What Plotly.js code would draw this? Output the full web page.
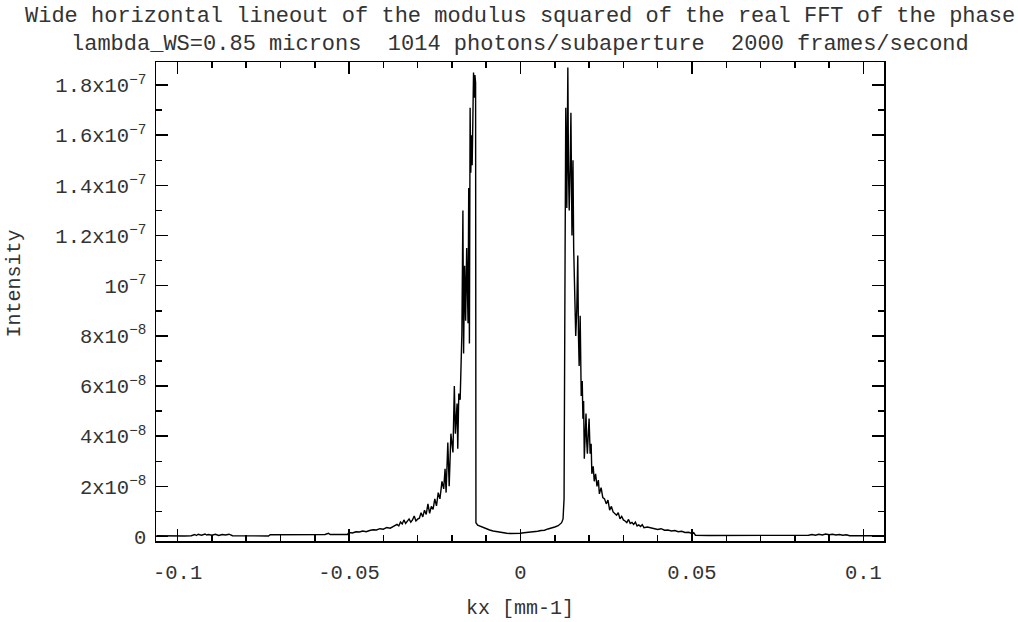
<!DOCTYPE html>
<html>
<head>
<meta charset="utf-8">
<script src="https://cdn.plot.ly/plotly-3.0.1.min.js"></script>
<style>html,body{margin:0;padding:0;background:#fff;}#chart{width:1018px;height:622px;}</style>
</head>
<body>
<div id="chart"></div>
<script>
// kx [mm-1]
const kx = [
-0.1062,-0.104,-0.100,-0.098,-0.096,-0.095,-0.0945,-0.094,-0.093,-0.092,-0.0915,-0.091,-0.090,-0.089,-0.088,-0.087,-0.086,-0.085,-0.084,
-0.080,-0.076,-0.0735,-0.073,-0.070,-0.068,-0.066,-0.064,-0.0635,-0.060,-0.057,-0.056,-0.0555,-0.053,-0.0505,
-0.050,-0.049,-0.048,-0.047,-0.046,-0.045,-0.044,-0.043,-0.042,-0.041,-0.040,-0.039,-0.038,-0.037,-0.036,-0.0355,
-0.035,-0.0345,-0.034,-0.0335,-0.033,-0.0325,-0.032,-0.0315,-0.031,-0.0305,-0.030,-0.0295,-0.029,-0.0285,-0.028,-0.0275,
-0.027,-0.0265,-0.026,-0.0255,-0.025,-0.0245,-0.024,-0.0235,-0.0229,-0.0224,-0.022,-0.0217,-0.0212,-0.0208,-0.0203,
-0.0197,-0.0193,-0.0190,-0.0185,-0.0183,-0.0180,-0.0176,-0.0171,-0.0168,-0.0166,-0.0163,-0.0160,-0.0157,-0.0155,
-0.0153,-0.0151,-0.0149,-0.0147,-0.0145,-0.0143,-0.0141,-0.0139,-0.0137,-0.0135,-0.0133,-0.0131,
-0.0130,-0.0125,-0.012,-0.0115,-0.011,-0.0105,-0.010,-0.009,-0.008,-0.007,-0.006,-0.005,-0.004,-0.003,-0.002,-0.001,
0,0.001,0.002,0.003,0.004,0.005,0.006,0.007,0.008,0.009,0.010,0.011,0.0115,0.012,0.0124,0.0127,
0.0130,0.0132,0.0135,0.0138,0.0140,0.0142,0.0145,0.0147,0.0150,0.0153,0.0155,0.0157,0.0161,0.0164,0.0167,0.0169,
0.0171,0.0174,0.0177,0.0180,0.0182,0.0184,0.0186,0.0189,0.0191,0.0193,0.0195,0.0198,0.0200,0.0203,0.0206,0.0208,
0.0212,0.0215,0.0219,0.0223,0.0227,0.023,0.0235,0.024,0.0245,0.025,0.0255,0.026,0.0265,0.027,0.0275,0.028,0.0285,
0.029,0.0295,0.030,0.0305,0.031,0.0315,0.032,0.0325,0.033,0.0335,0.034,0.0345,0.035,0.0355,0.036,0.037,0.038,0.039,
0.040,0.041,0.042,0.043,0.044,0.045,0.046,0.047,0.048,0.049,0.050,0.0505,0.051,0.055,0.060,0.065,0.070,0.071,0.073,
0.075,0.078,0.080,0.082,0.084,0.085,0.086,0.087,0.088,0.089,0.090,0.091,0.092,0.093,0.094,0.095,0.096,0.100,0.104,0.106
];
// Intensity
const intensity = [
0.03e-8,0.02e-8,0.03e-8,0.02e-8,0.03e-8,0.08e-8,0.04e-8,0.09e-8,0.05e-8,0.10e-8,0.06e-8,0.08e-8,0.05e-8,0.09e-8,0.04e-8,0.08e-8,0.06e-8,0.09e-8,0.03e-8,
0.02e-8,0.03e-8,0.02e-8,0.07e-8,0.07e-8,0.08e-8,0.07e-8,0.10e-8,0.07e-8,0.07e-8,0.08e-8,0.13e-8,0.08e-8,0.08e-8,0.08e-8,
0.16e-8,0.14e-8,0.19e-8,0.18e-8,0.22e-8,0.19e-8,0.24e-8,0.27e-8,0.26e-8,0.31e-8,0.29e-8,0.36e-8,0.33e-8,0.40e-8,0.48e-8,0.42e-8,
0.58e-8,0.50e-8,0.66e-8,0.52e-8,0.63e-8,0.70e-8,0.57e-8,0.66e-8,0.82e-8,0.62e-8,0.69e-8,0.73e-8,0.95e-8,0.78e-8,1.05e-8,0.88e-8,
1.30e-8,0.92e-8,1.20e-8,1.08e-8,1.50e-8,1.22e-8,1.75e-8,1.50e-8,2.20e-8,1.90e-8,2.70e-8,1.75e-8,3.75e-8,2.00e-8,4.10e-8,
3.35e-8,6.00e-8,4.10e-8,5.30e-8,3.50e-8,5.70e-8,5.45e-8,8.10e-8,13.0e-8,7.30e-8,10.8e-8,8.60e-8,11.5e-8,10.0e-8,
8.50e-8,13.9e-8,7.70e-8,17.1e-8,14.5e-8,16.0e-8,14.8e-8,16.6e-8,18.5e-8,17.5e-8,18.4e-8,18.1e-8,
0.55e-8,0.45e-8,0.42e-8,0.38e-8,0.35e-8,0.32e-8,0.30e-8,0.26e-8,0.22e-8,0.19e-8,0.16e-8,0.14e-8,0.13e-8,0.12e-8,0.12e-8,0.13e-8,
0.13e-8,0.15e-8,0.16e-8,0.18e-8,0.20e-8,0.21e-8,0.24e-8,0.25e-8,0.30e-8,0.33e-8,0.38e-8,0.43e-8,0.48e-8,0.55e-8,0.70e-8,1.50e-8,
11.3e-8,17.1e-8,13.1e-8,18.7e-8,14.5e-8,13.0e-8,14.9e-8,16.9e-8,12.0e-8,15.0e-8,11.5e-8,9.70e-8,8.00e-8,9.00e-8,11.2e-8,8.00e-8,
6.80e-8,8.80e-8,5.60e-8,6.20e-8,4.70e-8,5.40e-8,3.10e-8,4.20e-8,4.90e-8,3.80e-8,3.30e-8,4.20e-8,4.70e-8,3.30e-8,3.70e-8,2.50e-8,
2.80e-8,2.20e-8,2.50e-8,2.00e-8,2.25e-8,1.70e-8,1.95e-8,1.55e-8,1.50e-8,1.30e-8,1.45e-8,1.05e-8,1.20e-8,0.98e-8,0.92e-8,0.85e-8,0.95e-8,
0.70e-8,0.80e-8,0.66e-8,0.62e-8,0.55e-8,0.68e-8,0.52e-8,0.56e-8,0.48e-8,0.57e-8,0.42e-8,0.46e-8,0.40e-8,0.47e-8,0.35e-8,0.38e-8,0.34e-8,0.33e-8,
0.28e-8,0.31e-8,0.25e-8,0.26e-8,0.22e-8,0.24e-8,0.19e-8,0.21e-8,0.16e-8,0.17e-8,0.12e-8,0.15e-8,0.05e-8,0.04e-8,0.04e-8,0.05e-8,0.04e-8,0.07e-8,0.04e-8,
0.05e-8,0.04e-8,0.05e-8,0.04e-8,0.05e-8,0.08e-8,0.05e-8,0.09e-8,0.06e-8,0.10e-8,0.07e-8,0.09e-8,0.06e-8,0.08e-8,0.05e-8,0.07e-8,0.03e-8,0.03e-8,0.02e-8,0.03e-8
];

const xTickVals = [-0.1, -0.05, 0, 0.05, 0.1];
const xTickText = ["-0.1", "-0.05", "0", "0.05", "0.1"];
const yTickVals = [0, 2e-8, 4e-8, 6e-8, 8e-8, 1e-7, 1.2e-7, 1.4e-7, 1.6e-7, 1.8e-7];
const yMantissa = ["0", "2x10", "4x10", "6x10", "8x10", "10", "1.2x10", "1.4x10", "1.6x10", "1.8x10"];
const yExponent = ["", "\u22128", "\u22128", "\u22128", "\u22128", "\u22127", "\u22127", "\u22127", "\u22127", "\u22127"];

const titleLines = [
  "Wide horizontal lineout of the modulus squared of the real FFT of the phase",
  "lambda_WS=0.85 microns  1014 photons/subaperture  2000 frames/second"
];
const xTitle = "kx [mm-1]";
const yTitle = "Intensity";

const FONT = "'Courier New', Courier, 'Nimbus Mono PS', FreeMono, 'Liberation Mono', monospace";
const TXT = "#333";

const yTickText = yMantissa.map((m, i) =>
  yExponent[i] ? m + "<sup style=\"font-size:88%\">" + yExponent[i] + "</sup>" : m);

const trace = {
  x: kx, y: intensity, type: "scatter", mode: "lines",
  line: {color: "#000", width: 1.4}, hoverinfo: "skip"
};

const axisCommon = {
  showline: true, linecolor: "#000", linewidth: 1.5, mirror: "ticks",
  ticks: "inside", ticklen: 12, tickwidth: 1.5, tickcolor: "#000",
  showgrid: false, zeroline: false,
  tickfont: {family: FONT, size: 20.5, color: TXT}
};

const layout = {
  width: 1018, height: 622,
  margin: {l: 156, r: 134, t: 62, b: 81},
  paper_bgcolor: "#fff", plot_bgcolor: "#fff",
  showlegend: false,
  xaxis: Object.assign({}, axisCommon, {
    range: [-0.1063, 0.1060], tickmode: "array", tickvals: xTickVals, ticktext: xTickText,
    minor: {tickmode: "linear", tick0: 0, dtick: 0.01, ticks: "inside", ticklen: 6, tickwidth: 1.5, tickcolor: "#000"},
    ticklabelstandoff: 12,
    title: {text: xTitle, font: {family: FONT, size: 20, color: TXT}, standoff: 16}
  }),
  yaxis: Object.assign({}, axisCommon, {
    range: [-1.8e-9, 1.892e-7], tickmode: "array", tickvals: yTickVals, ticktext: yTickText,
    minor: {tickmode: "linear", tick0: 0, dtick: 1e-8, ticks: "inside", ticklen: 6, tickwidth: 1.5, tickcolor: "#000"},
    ticklabelstandoff: 4
  }),
  annotations: [
    {text: titleLines[0], xref: "paper", yref: "paper", x: 0.5, y: 1.095, xanchor: "center", yanchor: "middle",
     showarrow: false, font: {family: FONT, size: 22, color: TXT}},
    {text: titleLines[1], xref: "paper", yref: "paper", x: 0.5, y: 1.037, xanchor: "center", yanchor: "middle",
     showarrow: false, font: {family: FONT, size: 22, color: TXT}},
    {text: yTitle, textangle: -90, xref: "paper", yref: "paper",
     x: -0.194, y: 0.537, xanchor: "center", yanchor: "middle", showarrow: false,
     font: {family: FONT, size: 20, color: TXT}}
  ]
};

Plotly.newPlot("chart", [trace], layout, {displayModeBar: false, staticPlot: true});
</script>
</body>
</html>
